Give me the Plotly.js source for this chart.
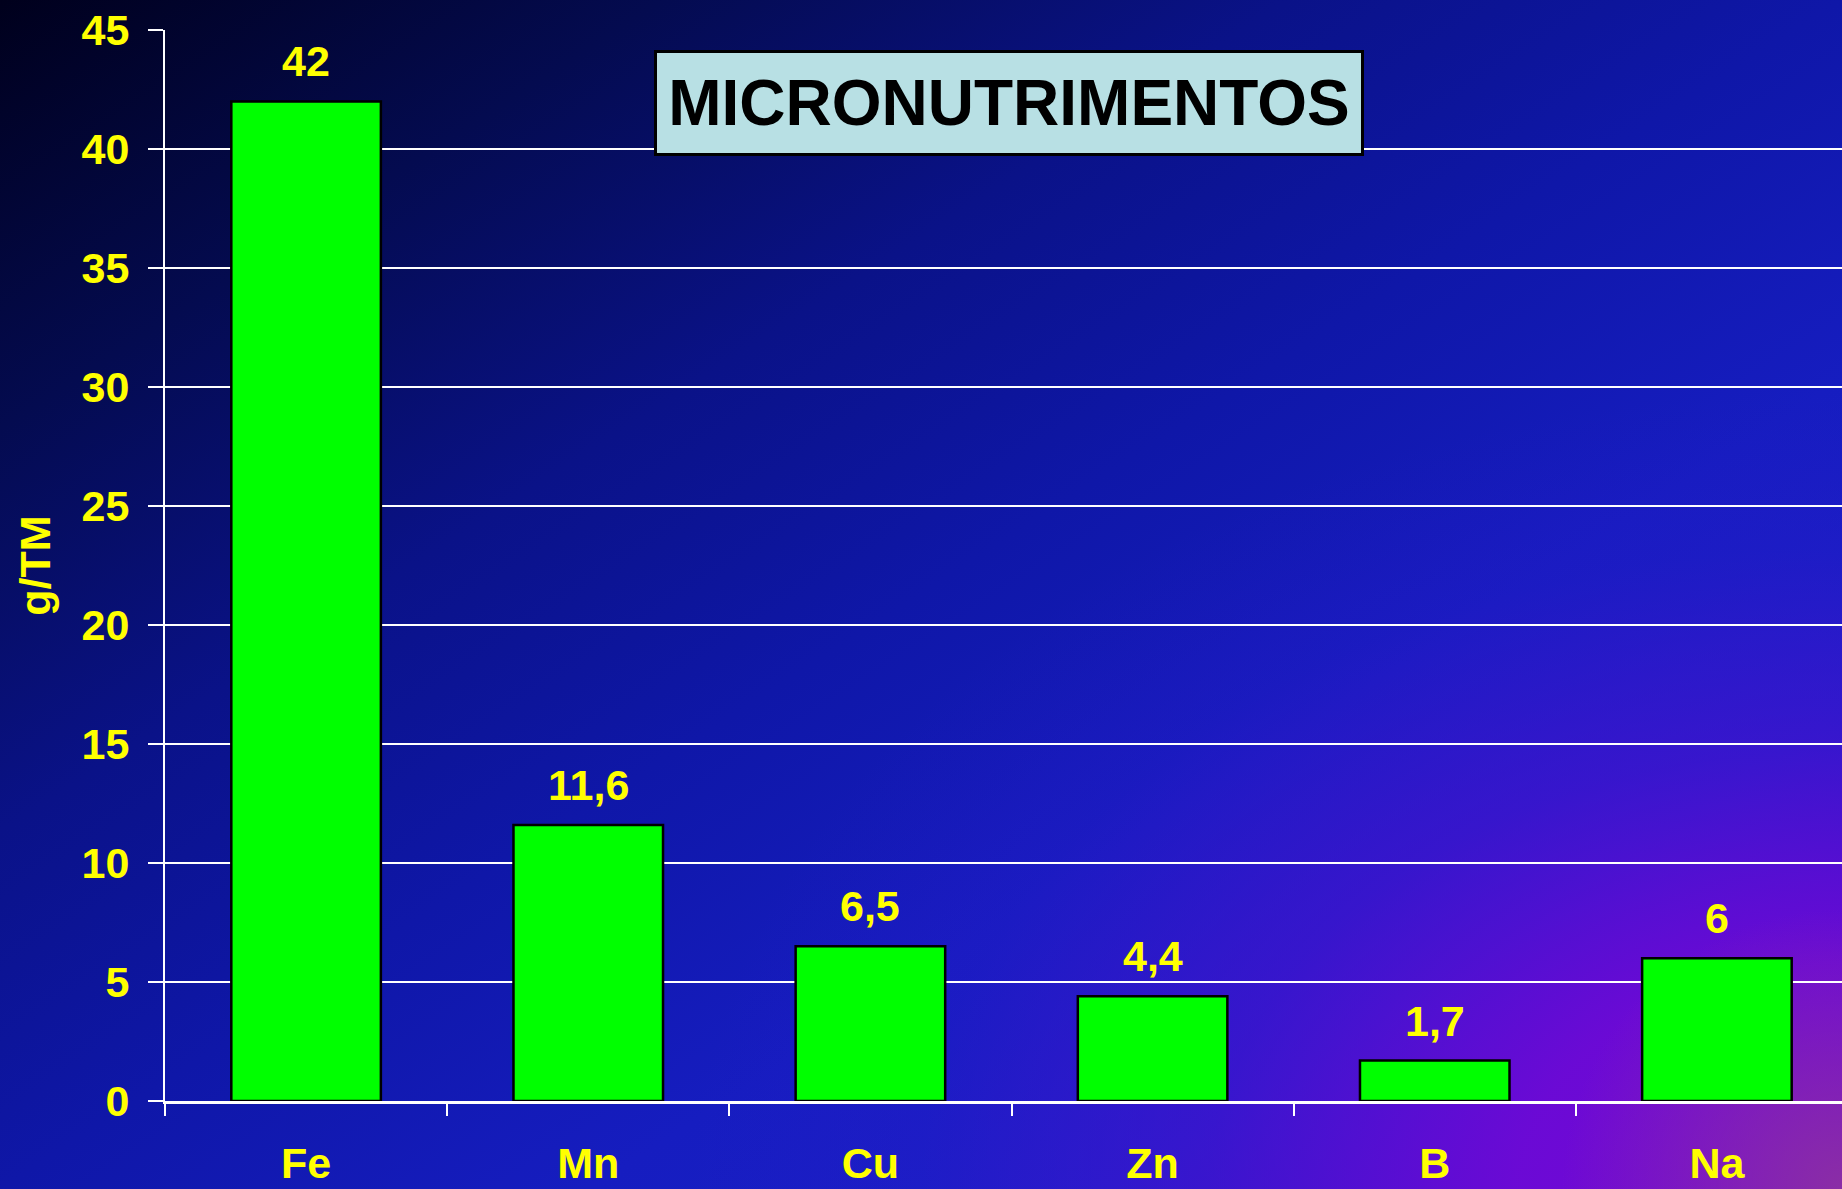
<!DOCTYPE html>
<html>
<head>
<meta charset="utf-8">
<script src="https://cdn.plot.ly/plotly-3.0.1.min.js"></script>
<style>
  html, body { margin: 0; padding: 0; overflow: hidden; }
  #bg {
    position: absolute; left: 0; top: 0; width: 1842px; height: 1189px;
    background:
      radial-gradient(ellipse 1150px 800px at 100% 100%, rgba(120,6,214,1) 0%, rgba(114,8,214,0.9) 28%, rgba(80,14,210,0.55) 55%, rgba(50,20,205,0.2) 80%, rgba(40,20,200,0) 100%),
      linear-gradient(to bottom right, #00001c 0%, #040b50 18%, #0a1288 35%, #0f17a8 50%, #161dc0 66%, #1a20c8 80%, #3a14cc 100%);
  }
  #corner {
    position: absolute; left: 0; top: 0; width: 1842px; height: 1189px;
    background: radial-gradient(circle 280px at 100% 100%, rgba(140,50,160,0.9) 0%, rgba(140,50,160,0) 100%);
  }
  #chart { position: absolute; left: 0; top: 0; width: 1842px; height: 1189px; }
</style>
</head>
<body>
<div id="bg"></div>
<div id="corner"></div>
<div id="chart"></div>
<script>
// ---- data ----
const categories = ["Fe", "Mn", "Cu", "Zn", "B", "Na"];
const values = [42, 11.6, 6.5, 4.4, 1.7, 6];
const valueLabels = ["42", "11,6", "6,5", "4,4", "1,7", "6"];
const yTickValues = [0, 5, 10, 15, 20, 25, 30, 35, 40, 45];
const chartTitle = "MICRONUTRIMENTOS";
const yTitle = "g/TM";

const FONT = "Liberation Sans, Arial, sans-serif";
const YELLOW = "#ffff00";

const W = 1842, H = 1189;
const mL = 165, mR = 0, mT = 30, mB = 88;
const plotW = W - mL - mR, plotH = H - mT - mB;
function px2paperX(px) { return (px - mL) / plotW; }
function px2paperY(py) { return (H - mB - py) / plotH; }

const trace = {
  type: "bar",
  x: categories,
  y: values,
  marker: { color: "#00ff00", line: { color: "#000000", width: 2.5 } },
  hoverinfo: "x+y"
};

const annotations = categories.map((c, i) => ({
  x: c, y: values[i], xref: "x", yref: "y",
  text: valueLabels[i], showarrow: false,
  xanchor: "center", yanchor: "bottom", yshift: 14,
  font: { family: FONT, size: 43, color: YELLOW, weight: "bold" }
}));

annotations.push({
  xref: "paper", yref: "paper",
  x: px2paperX(1009), y: px2paperY(103),
  xanchor: "center", yanchor: "middle",
  text: chartTitle, showarrow: false,
  width: 704, height: 100,
  bgcolor: "#b8e0e4", bordercolor: "#000000", borderwidth: 3, borderpad: 0,
  font: { family: FONT, size: 64, color: "#000000", weight: "bold" }
});

const layout = {
  width: W, height: H,
  margin: { l: mL, r: mR, t: mT, b: mB, pad: 0 },
  paper_bgcolor: "rgba(0,0,0,0)",
  plot_bgcolor: "rgba(0,0,0,0)",
  showlegend: false,
  bargap: 0.47,
  xaxis: {
    type: "category",
    range: [-0.5, -0.5 + plotW / ((1858 - 165) / 6)],
    tickson: "boundaries",
    ticks: "outside", ticklen: 12, tickwidth: 2, tickcolor: "#ffffff",
    showline: true, linecolor: "#ffffff", linewidth: 3,
    showgrid: false, zeroline: false,
    ticklabelstandoff: 22,
    tickfont: { family: FONT, size: 43, color: YELLOW, weight: "bold" },
    fixedrange: true
  },
  yaxis: {
    range: [0, 45],
    tickvals: yTickValues,
    ticks: "outside", ticklen: 15, tickwidth: 2, tickcolor: "#ffffff",
    showline: true, linecolor: "#ffffff", linewidth: 2,
    showgrid: true, gridcolor: "#ffffff", gridwidth: 2,
    zeroline: false,
    ticklabelstandoff: 10,
    tickfont: { family: FONT, size: 43, color: YELLOW, weight: "bold" },
    title: { text: yTitle, standoff: 18, font: { family: FONT, size: 43, color: YELLOW, weight: "bold" } },
    fixedrange: true
  },
  annotations: annotations
};

Plotly.newPlot("chart", [trace], layout, { displayModeBar: false, staticPlot: true });
</script>
</body>
</html>
